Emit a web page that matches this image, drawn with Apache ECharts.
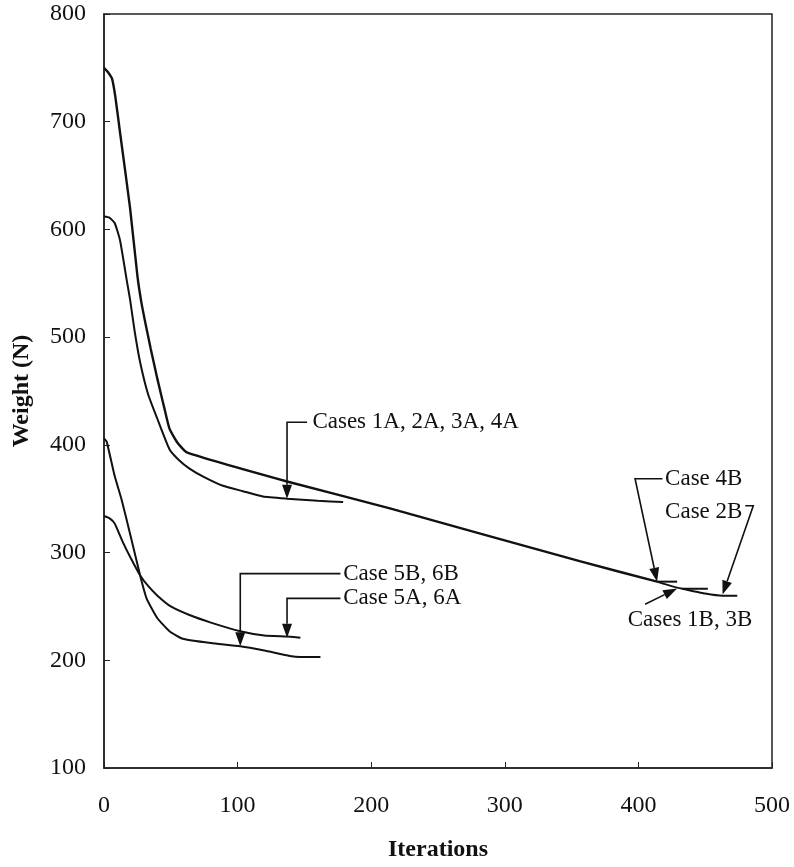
<!DOCTYPE html>
<html>
<head>
<meta charset="utf-8">
<script src="https://cdn.jsdelivr.net/npm/echarts@6/dist/echarts.min.js"></script>
<style>
  html, body { margin: 0; padding: 0; background: #fff; }
  #chart { width: 794px; height: 867px; }
</style>
</head>
<body>
<div id="chart"></div>
<script>
// weight (N) vs iteration as [iteration, weight]
const trunkB = [[0, 750], [3, 746], [6, 740], [8.5, 723], [12, 690], [19.5, 620], [25, 557], [28, 532], [31, 513], [35, 489], [40, 461], [45, 435], [49, 415], [55, 402], [62, 393], [137, 366], [214, 341], [356, 292], [414, 273]]
const tail4B = [[414, 273], [429, 273]]
const tail13B = [[414, 273], [433, 266.5], [452, 266.5]]
const tail2B = [[433, 266.5], [450, 262], [463, 260], [474, 260]]
const cases1A4A = [[0, 612], [4, 611], [8, 606], [12, 590], [17, 553], [19.5, 535], [23, 505], [27, 477], [33, 447], [40, 424], [49, 396], [56, 386], [64, 378], [75, 370], [89, 362], [104, 357], [119, 352], [137, 350], [160, 348], [179, 347]]
const cases5B6B = [[0, 406], [2, 403], [8, 371], [13, 350], [20, 315], [27, 279], [32, 257], [40, 239], [49, 227], [59, 220], [80, 216], [102, 213], [120, 209], [139, 204], [147, 203], [162, 203]]
const cases5A6A = [[0, 334], [4, 332], [8, 327], [14, 310], [20, 295], [27, 279], [33, 269], [40, 260], [50, 250], [64, 242], [80, 235], [102, 227], [120, 223], [137, 222], [147, 221]]

// callouts: leader path (last point = arrow tip) and text anchor, in data units
const notes = [
  { text: 'Cases 1A, 2A, 3A, 4A', path: [[152, 421], [137, 421], [137, 350]], at: [156, 421] },
  { text: 'Case 5B, 6B', path: [[177, 280.5], [102, 280.5], [102, 213]], at: [179, 280.5] },
  { text: 'Case 5A, 6A', path: [[177, 257.5], [137, 257.5], [137, 221]], at: [179, 257.5] },
  { text: 'Case 4B', path: [[418, 368.5], [397.5, 368.5], [414, 273]], at: [420, 368.5] },
  { text: 'Case 2B', path: [[480, 343.5], [486, 343.5], [463, 261]], at: [420, 338] },
  { text: 'Cases 1B, 3B', path: [[405, 252], [429, 266.7]], at: [392, 237] }
]

const font = 'Liberation Serif'
const ink = '#111'

const lineSeries = (name, data, width) => ({
  name,
  type: 'line',
  data,
  showSymbol: false,
  smooth: 0.15,
  lineStyle: { color: ink, width: width || 2 },
  z: 3
})

const chart = echarts.init(document.getElementById('chart'))

chart.setOption({
  animation: false,
  backgroundColor: '#fff',
  grid: { left: 104, right: 22, top: 14, bottom: 97, show: true, borderColor: '#222', borderWidth: 1.5 },
  xAxis: {
    type: 'value',
    min: 0,
    max: 500,
    interval: 100,
    name: 'Iterations',
    nameLocation: 'middle',
    nameGap: 70,
    nameTextStyle: { fontFamily: font, fontSize: 24, fontWeight: 'bold', color: ink },
    axisLine: { show: true, lineStyle: { color: '#222', width: 1.5 } },
    axisTick: { show: true, inside: true, length: 6, lineStyle: { color: '#222' } },
    axisLabel: { fontFamily: font, fontSize: 24, color: ink, margin: 26 },
    splitLine: { show: false }
  },
  yAxis: {
    type: 'value',
    min: 100,
    max: 800,
    interval: 100,
    name: 'Weight (N)',
    nameLocation: 'middle',
    nameGap: 70,
    nameRotate: 90,
    nameTextStyle: { fontFamily: font, fontSize: 24, fontWeight: 'bold', color: ink },
    axisLine: { show: true, lineStyle: { color: '#222', width: 1.5 } },
    axisTick: { show: true, inside: true, length: 6, lineStyle: { color: '#222' } },
    axisLabel: { fontFamily: font, fontSize: 24, color: ink, margin: 18 },
    splitLine: { show: false }
  },
  series: [
    lineSeries('Cases 1B-4B', trunkB, 2.4),
    lineSeries('Case 4B', tail4B),
    lineSeries('Cases 1B, 3B', tail13B),
    lineSeries('Case 2B', tail2B),
    lineSeries('Cases 1A-4A', cases1A4A),
    lineSeries('Case 5B, 6B', cases5B6B),
    lineSeries('Case 5A, 6A', cases5A6A)
  ]
})

// leader lines and arrowheads, placed through the chart's own scales
const px = p => chart.convertToPixel({ gridIndex: 0 }, p)
const elements = []
notes.forEach(n => {
  const pts = n.path.map(px)
  const tip = pts[pts.length - 1]
  const prev = pts[pts.length - 2]
  const dx = tip[0] - prev[0]
  const dy = tip[1] - prev[1]
  const len = Math.sqrt(dx * dx + dy * dy)
  const ux = dx / len
  const uy = dy / len
  const bx = tip[0] - ux * 14
  const by = tip[1] - uy * 14
  elements.push({
    type: 'polyline',
    shape: { points: pts.slice(0, -1).concat([[bx, by]]) },
    style: { stroke: ink, lineWidth: 1.6, fill: null },
    z: 10
  })
  elements.push({
    type: 'polygon',
    shape: { points: [tip, [bx - uy * 5, by + ux * 5], [bx + uy * 5, by - ux * 5]] },
    style: { fill: ink },
    z: 10
  })
  const t = px(n.at)
  elements.push({
    type: 'text',
    x: t[0],
    y: t[1],
    style: { text: n.text, fontFamily: font, fontSize: 23, fill: ink, align: 'left', verticalAlign: 'middle' },
    z: 11
  })
})
chart.setOption({ graphic: { elements } })
</script>
</body>
</html>
